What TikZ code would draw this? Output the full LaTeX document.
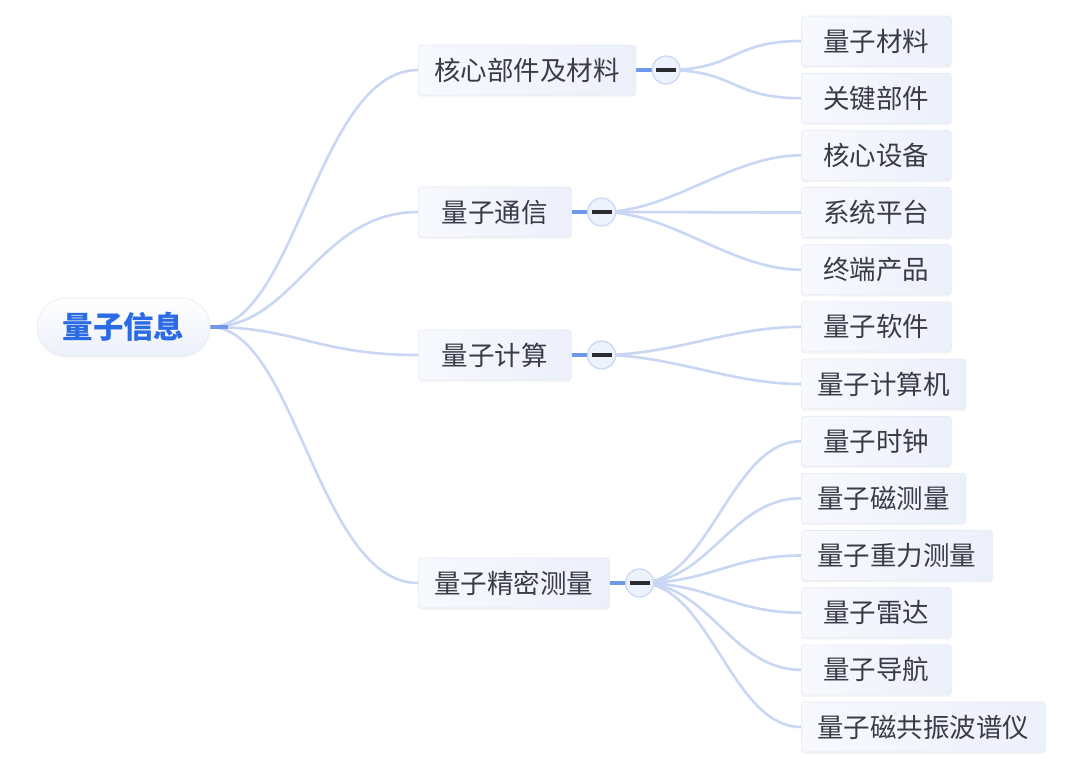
\documentclass[tikz,border=0pt]{standalone}
\usepackage{fontspec}
\setmainfont{Noto Sans CJK SC}
\usetikzlibrary{shadows}
\definecolor{edgec}{HTML}{C9D7F5}
\definecolor{stubc}{HTML}{6F97EC}
\definecolor{txtc}{HTML}{383C48}
\definecolor{rootc}{HTML}{2B6BE6}
\definecolor{boxl}{HTML}{F8F9FD}
\definecolor{boxr}{HTML}{ECF0FA}
\definecolor{boxd}{HTML}{E4E9F3}
\definecolor{circf}{HTML}{EEF2FC}
\definecolor{minusc}{HTML}{2A2C30}
\pgfdeclarelayer{bg}
\pgfsetlayers{bg,main}
\tikzset{
  boxbase/.style={rectangle, rounded corners=3pt, draw=boxd, line width=0.6pt,
    left color=boxl, right color=boxr, text=txtc,
    font=\fontsize{26.5}{31}\selectfont, minimum height=50pt, inner xsep=16pt,
    drop shadow={shadow xshift=0pt, shadow yshift=-2pt, opacity=0.07}},
  leafbox/.style={boxbase, minimum width=150pt, anchor=west},
  branchbox/.style={boxbase, minimum width=153pt, anchor=west},
  rootbox/.style={rectangle, rounded corners=29pt, draw=boxd, line width=0.6pt,
    top color=white, bottom color=boxr, text=rootc,
    font=\fontsize{30.5}{36}\selectfont\bfseries, minimum height=58pt, minimum width=173pt,
    drop shadow={shadow xshift=0pt, shadow yshift=-2pt, opacity=0.06}},
  togglec/.style={circle, draw=edgec, line width=1.2pt, fill=circf, minimum size=28pt, inner sep=0pt},
  edgeline/.style={draw=edgec, line width=2.6pt, line cap=round},
  stubline/.style={draw=stubc, line width=4pt},
  minusbar/.style={draw=minusc, line width=4pt}
}
\begin{document}
\begin{tikzpicture}[x=1pt,y=-1pt]
\useasboundingbox (0,0) rectangle (1080,764);

% root
\node[rootbox] (root) at (123.5,327) {量子信息};

% branches
\node[branchbox] (b1) at (418,70) {核心部件及材料};
\node[branchbox] (b2) at (418,212) {量子通信};
\node[branchbox] (b3) at (418,355) {量子计算};
\node[branchbox] (b4) at (418,583) {量子精密测量};

% toggles
\node[togglec] (t1) at ([xshift=30pt]b1.east) {};
\node[togglec] (t2) at ([xshift=30pt]b2.east) {};
\node[togglec] (t3) at ([xshift=30pt]b3.east) {};
\node[togglec] (t4) at ([xshift=30pt]b4.east) {};
\foreach \t in {t1,t2,t3,t4}{
  \draw[minusbar] ([xshift=-10pt]\t.center) -- ([xshift=10pt]\t.center);
}

% leaves
\node[leafbox] (l1) at (801,41) {量子材料};
\node[leafbox] (l2) at (801,98.2) {关键部件};
\node[leafbox] (l3) at (801,155.3) {核心设备};
\node[leafbox] (l4) at (801,212.5) {系统平台};
\node[leafbox] (l5) at (801,269.7) {终端产品};
\node[leafbox] (l6) at (801,326.8) {量子软件};
\node[leafbox] (l7) at (801,384) {量子计算机};
\node[leafbox] (l8) at (801,441.2) {量子时钟};
\node[leafbox] (l9) at (801,498.3) {量子磁测量};
\node[leafbox] (l10) at (801,555.5) {量子重力测量};
\node[leafbox] (l11) at (801,612.7) {量子雷达};
\node[leafbox] (l12) at (801,669.8) {量子导航};
\node[leafbox] (l13) at (801,727) {量子磁共振波谱仪};

\begin{pgfonlayer}{bg}
  \fill[white] (0,0) rectangle (1080,764);
  % root to branches
  \foreach \b in {b1,b2,b3,b4}{
    \draw[edgeline] (root.east) .. controls +(85,0) and +(-100,0) .. (\b.west);
  }
  % toggles to leaves
  \foreach \t/\l in {t1/l1,t1/l2,t2/l3,t2/l4,t2/l5,t3/l6,t3/l7,t4/l8,t4/l9,t4/l10,t4/l11,t4/l12,t4/l13}{
    \draw[edgeline] (\t.center) .. controls +(70,0) and +(-70,0) .. (\l.west);
  }
  % stubs
  \draw[stubline] (root.east) -- ++(18,0);
  \foreach \b/\t in {b1/t1,b2/t2,b3/t3,b4/t4}{
    \draw[stubline] (\b.east) -- (\t.west);
  }
\end{pgfonlayer}
\end{tikzpicture}
\end{document}
